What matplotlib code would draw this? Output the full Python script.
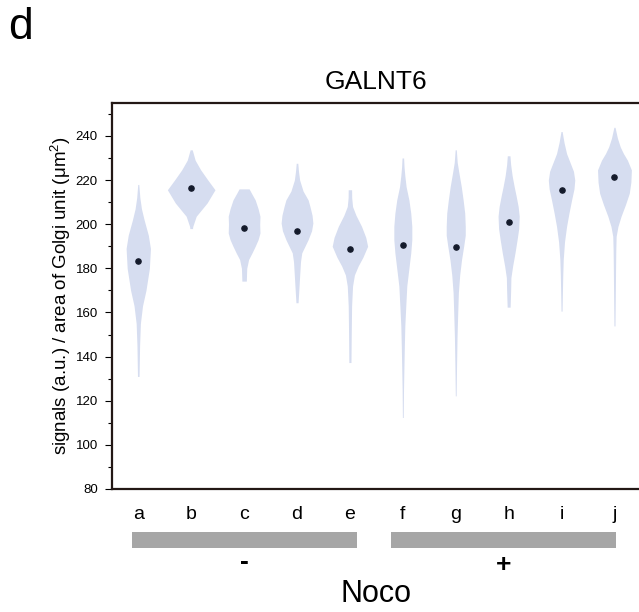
import numpy as np
import matplotlib.pyplot as plt
from matplotlib.patches import Rectangle
import matplotlib.transforms as mtransforms

plt.rcParams['font.family'] = ['Liberation Sans', 'DejaVu Sans']
plt.rcParams['mathtext.fontset'] = 'custom'
plt.rcParams['mathtext.rm'] = 'Liberation Sans'
plt.rcParams['mathtext.it'] = 'Liberation Sans'

groups = ['a', 'b', 'c', 'd', 'e', 'f', 'g', 'h', 'i', 'j']
medians = [183.5, 216.2, 198.4, 196.8, 188.8, 190.5, 189.5, 200.8, 215.6, 221.6]

# violin outlines: y values and half widths (in category units)
prof_y = [
    [131, 145, 155, 163, 170, 180, 189, 195, 202, 207, 212, 218],
    [198, 199, 203.6, 209.6, 215.6, 220, 224.6, 229, 233.7],
    [174.2, 180, 184, 187, 190, 193, 196, 200, 203.6, 207, 211, 214, 216],
    [164.4, 170, 176.6, 183, 187, 190, 193, 197, 200.5, 204, 208, 211, 215, 220, 224, 227.6],
    [137.3, 150, 163, 172, 177, 181, 185, 190, 194, 199, 204, 208, 212, 215.6],
    [112.4, 125, 134, 144, 154, 163, 172, 180, 187, 193, 199, 205, 211, 217, 222, 226, 230],
    [122.2, 135, 149.3, 160, 169, 177, 184, 190, 195, 199, 205, 211, 217, 223, 228, 233.7],
    [162.4, 170, 175.8, 181, 187, 193, 198, 203.6, 208, 213, 217, 222, 227, 231],
    [160.6, 170, 177, 184, 192, 199, 205, 211, 216, 220, 224, 228, 232, 237, 242],
    [153.9, 165, 180, 188, 194.5, 199, 203.6, 209, 214, 219, 224.6, 229, 232, 235, 239, 243.9],
]
prof_w = [
    [0.015, 0.025, 0.04, 0.08, 0.145, 0.21, 0.23, 0.19, 0.11, 0.06, 0.03, 0.01],
    [0.025, 0.03, 0.095, 0.30, 0.45, 0.315, 0.18, 0.075, 0.02],
    [0.042, 0.05, 0.085, 0.15, 0.21, 0.265, 0.30, 0.295, 0.30, 0.265, 0.21, 0.14, 0.095],
    [0.02, 0.034, 0.05, 0.066, 0.09, 0.15, 0.21, 0.275, 0.30, 0.285, 0.245, 0.21, 0.115, 0.05, 0.028, 0.015],
    [0.02, 0.025, 0.032, 0.05, 0.085, 0.155, 0.245, 0.335, 0.30, 0.22, 0.115, 0.05, 0.034, 0.032],
    [0.008, 0.013, 0.02, 0.028, 0.038, 0.056, 0.075, 0.115, 0.15, 0.17, 0.17, 0.15, 0.115, 0.062, 0.038, 0.023, 0.015],
    [0.008, 0.015, 0.025, 0.038, 0.05, 0.075, 0.11, 0.15, 0.18, 0.18, 0.17, 0.14, 0.105, 0.062, 0.028, 0.011],
    [0.028, 0.038, 0.043, 0.075, 0.12, 0.16, 0.19, 0.20, 0.18, 0.14, 0.105, 0.066, 0.038, 0.025],
    [0.01, 0.017, 0.023, 0.032, 0.056, 0.095, 0.14, 0.19, 0.235, 0.25, 0.225, 0.16, 0.095, 0.047, 0.011],
    [0.01, 0.015, 0.021, 0.025, 0.032, 0.066, 0.125, 0.21, 0.28, 0.31, 0.32, 0.245, 0.17, 0.11, 0.056, 0.011],
]

fig = plt.figure(figsize=(6.39, 6.12), dpi=100)
ax = fig.add_axes([0.175, 0.201, 0.828, 0.631])

for i in range(len(groups)):
    y = np.array(prof_y[i])
    w = np.array(prof_w[i])
    ax.fill_betweenx(y, i - w, i + w, color='#d6ddf0', lw=0)
ax.scatter(range(len(groups)), medians, s=14, color='#141a2b', zorder=3)

ax.set_xlim(-0.5, 9.5)
ax.set_ylim(80, 255)
ax.set_yticks(range(80, 241, 20))
ax.set_yticks(range(80, 251, 10), minor=True)
ax.set_xticks(range(len(groups)))
ax.set_xticklabels(groups, fontsize=14)
ax.tick_params(axis='x', length=0, pad=12)
ax.tick_params(axis='y', which='major', length=5, width=0.8, labelsize=9.5, pad=5)
ax.tick_params(axis='y', which='minor', length=3, width=0.8)
for s in ax.spines.values():
    s.set_linewidth(1.6)
    s.set_color('#231815')

ax.set_ylabel('signals (a.u.) / area of Golgi unit (μm$^2$)', fontsize=13.5, labelpad=2)
ax.set_title('GALNT6', fontsize=19, pad=10)

# Noco group bars
trans = mtransforms.blended_transform_factory(ax.transData, ax.transAxes)
ax.add_patch(Rectangle((-0.12, -0.111), 4.26, -0.042, transform=trans,
                       color='#a6a6a6', clip_on=False, lw=0))
ax.add_patch(Rectangle((4.77, -0.111), 4.26, -0.042, transform=trans,
                       color='#a6a6a6', clip_on=False, lw=0))
ax.text(2.01, -0.19, '-', transform=trans, ha='center', va='center',
        fontsize=19, fontweight='bold')
ax.text(6.9, -0.197, '+', transform=trans, ha='center', va='center',
        fontsize=19, fontweight='bold')
ax.text(4.5, -0.272, 'Noco', transform=trans, ha='center', va='center', fontsize=22)

fig.text(0.012, 0.936, 'd', fontsize=32, ha='left', va='baseline')

fig.savefig('out.png', dpi=100)
